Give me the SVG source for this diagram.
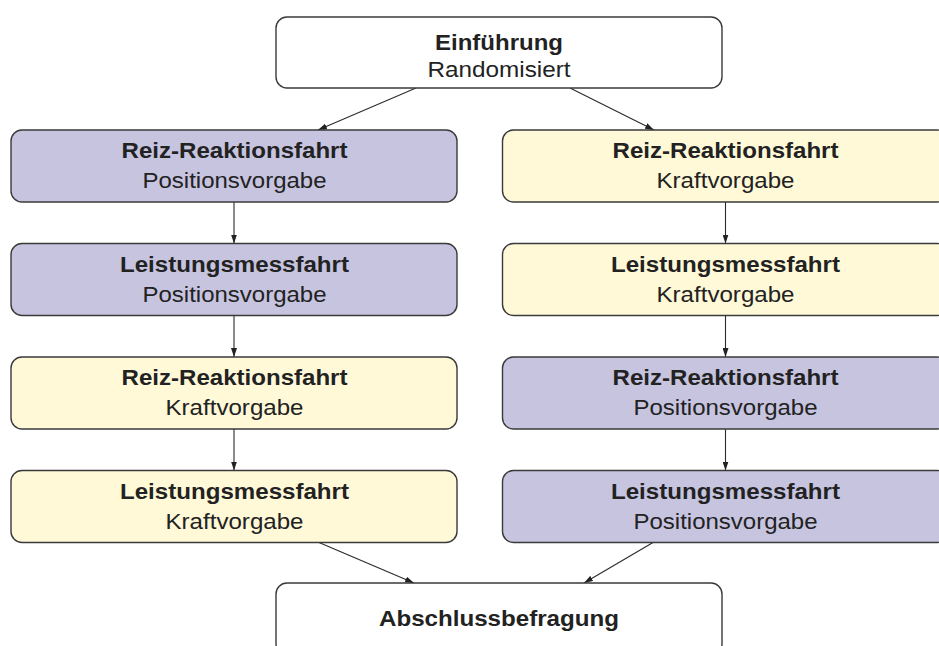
<svg xmlns="http://www.w3.org/2000/svg" width="939" height="646" viewBox="0 0 939 646">
  <defs>
    <marker id="arrow" viewBox="0 0 9 6" refX="9" refY="3" markerWidth="9" markerHeight="6" markerUnits="userSpaceOnUse" orient="auto">
      <path d="M0,0 L9,3 L0,6 z" fill="#222"/>
    </marker>
    <style>
      .box { stroke: #3a3a3a; stroke-width: 1.4; }
      .white { fill: #ffffff; }
      .pos { fill: #c7c4e0; }
      .kraft { fill: #fff9d8; }
      .title { font-family: "Liberation Sans", Arial, sans-serif; font-weight: bold; font-size: 22.5px; fill: #222; text-anchor: middle; }
      .sub { font-family: "Liberation Sans", Arial, sans-serif; font-size: 22.5px; fill: #222; text-anchor: middle; }
      .edge { stroke: #2a2a2a; stroke-width: 1.1; fill: none; marker-end: url(#arrow); }
    </style>
  </defs>
  <rect width="939" height="646" fill="#ffffff"/>

  <!-- connectors -->
  <g id="connectors">
    <line class="edge" x1="416" y1="88" x2="318" y2="130"/>
    <line class="edge" x1="570" y1="88" x2="654" y2="130"/>
    <line class="edge" x1="234" y1="202" x2="234" y2="243.5"/>
    <line class="edge" x1="234" y1="315.5" x2="234" y2="357"/>
    <line class="edge" x1="234" y1="429" x2="234" y2="470.5"/>
    <line class="edge" x1="725.5" y1="202" x2="725.5" y2="243.5"/>
    <line class="edge" x1="725.5" y1="315.5" x2="725.5" y2="357"/>
    <line class="edge" x1="725.5" y1="429" x2="725.5" y2="470.5"/>
    <line class="edge" x1="319" y1="542.5" x2="414" y2="583"/>
    <line class="edge" x1="653" y1="542.5" x2="584" y2="583"/>
  </g>

  <!-- start -->
  <g id="einfuehrung">
    <rect class="box white" x="276" y="17" width="446" height="71" rx="11"/>
    <text class="title" x="499" y="50" textLength="128" lengthAdjust="spacingAndGlyphs">Einführung</text>
    <text class="sub" x="499" y="77" textLength="143" lengthAdjust="spacingAndGlyphs">Randomisiert</text>
  </g>

  <!-- left sequence -->
  <g id="l1">
    <rect class="box pos" x="11" y="130" width="446" height="72" rx="11"/>
    <text class="title" x="234.5" y="158" textLength="226" lengthAdjust="spacingAndGlyphs">Reiz-Reaktionsfahrt</text>
    <text class="sub" x="234.5" y="188" textLength="184" lengthAdjust="spacingAndGlyphs">Positionsvorgabe</text>
  </g>
  <g id="l2">
    <rect class="box pos" x="11" y="243.5" width="446" height="72" rx="11"/>
    <text class="title" x="234.5" y="271.5" textLength="229" lengthAdjust="spacingAndGlyphs">Leistungsmessfahrt</text>
    <text class="sub" x="234.5" y="301.5" textLength="184" lengthAdjust="spacingAndGlyphs">Positionsvorgabe</text>
  </g>
  <g id="l3">
    <rect class="box kraft" x="11" y="357" width="446" height="72" rx="11"/>
    <text class="title" x="234.5" y="385" textLength="226" lengthAdjust="spacingAndGlyphs">Reiz-Reaktionsfahrt</text>
    <text class="sub" x="234.5" y="415" textLength="138" lengthAdjust="spacingAndGlyphs">Kraftvorgabe</text>
  </g>
  <g id="l4">
    <rect class="box kraft" x="11" y="470.5" width="446" height="72" rx="11"/>
    <text class="title" x="234.5" y="498.5" textLength="229" lengthAdjust="spacingAndGlyphs">Leistungsmessfahrt</text>
    <text class="sub" x="234.5" y="528.5" textLength="138" lengthAdjust="spacingAndGlyphs">Kraftvorgabe</text>
  </g>

  <!-- right sequence -->
  <g id="r1">
    <rect class="box kraft" x="502.5" y="130" width="446" height="72" rx="11"/>
    <text class="title" x="725.5" y="158" textLength="226" lengthAdjust="spacingAndGlyphs">Reiz-Reaktionsfahrt</text>
    <text class="sub" x="725.5" y="188" textLength="138" lengthAdjust="spacingAndGlyphs">Kraftvorgabe</text>
  </g>
  <g id="r2">
    <rect class="box kraft" x="502.5" y="243.5" width="446" height="72" rx="11"/>
    <text class="title" x="725.5" y="271.5" textLength="229" lengthAdjust="spacingAndGlyphs">Leistungsmessfahrt</text>
    <text class="sub" x="725.5" y="301.5" textLength="138" lengthAdjust="spacingAndGlyphs">Kraftvorgabe</text>
  </g>
  <g id="r3">
    <rect class="box pos" x="502.5" y="357" width="446" height="72" rx="11"/>
    <text class="title" x="725.5" y="385" textLength="226" lengthAdjust="spacingAndGlyphs">Reiz-Reaktionsfahrt</text>
    <text class="sub" x="725.5" y="415" textLength="184" lengthAdjust="spacingAndGlyphs">Positionsvorgabe</text>
  </g>
  <g id="r4">
    <rect class="box pos" x="502.5" y="470.5" width="446" height="72" rx="11"/>
    <text class="title" x="725.5" y="498.5" textLength="229" lengthAdjust="spacingAndGlyphs">Leistungsmessfahrt</text>
    <text class="sub" x="725.5" y="528.5" textLength="184" lengthAdjust="spacingAndGlyphs">Positionsvorgabe</text>
  </g>

  <!-- end -->
  <g id="abschluss">
    <rect class="box white" x="276" y="583" width="446" height="72" rx="11"/>
    <text class="title" x="499" y="626" textLength="240" lengthAdjust="spacingAndGlyphs">Abschlussbefragung</text>
  </g>
</svg>
